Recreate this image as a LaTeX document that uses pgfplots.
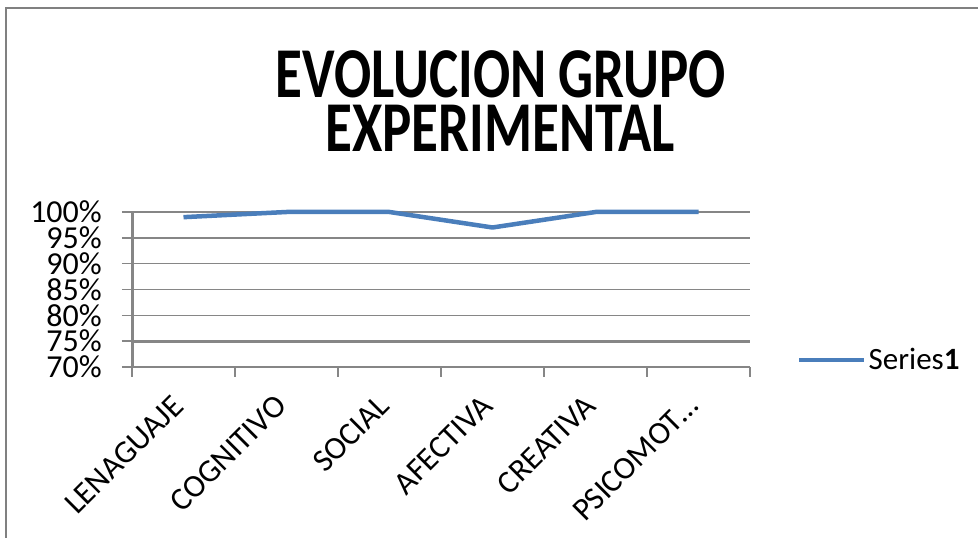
\documentclass[border=0pt]{standalone}
\usepackage{pgfplots}
\pgfplotsset{compat=1.18}
\usepackage{graphicx}
\usepackage{fontspec}
\setmainfont{Carlito}
\definecolor{seriesblue}{RGB}{74,126,187}
\definecolor{axgray}{RGB}{134,134,134}
\definecolor{framegray}{RGB}{128,128,128}
\begin{document}
\begin{tikzpicture}[x=1pt,y=1pt]
\useasboundingbox (0,0) rectangle (978,538);
\draw[framegray, line width=2.5pt] (6,0) -- (6,530) -- (978,530);
\node[anchor=base, font=\fontsize{55}{53}\selectfont\bfseries, inner sep=0pt] at (501,440) {\scalebox{1}[1.3]{EVOLUCION GRUPO}};
\node[anchor=base, font=\fontsize{55}{53}\selectfont\bfseries, inner sep=0pt] at (500,386) {\scalebox{1}[1.3]{EXPERIMENTAL}};
\begin{axis}[
  at={(132pt,171pt)}, anchor=south west,
  scale only axis, width=618pt, height=155pt,
  xmin=0.5, xmax=6.5, ymin=70, ymax=100,
  clip=false,
  axis lines*=left,
  x axis line style={draw=axgray, line width=1.5pt},
  y axis line style={draw=axgray, line width=3pt},
  tick align=outside,
  major tick length=10pt, minor tick length=10pt,
  xtick={1,2,3,4,5,6},
  xtick style={draw=none},
  minor xtick={0.5,1.5,2.5,3.5,4.5,5.5,6.5},
  minor x tick style={draw=axgray, line width=1.5pt},
  ytick={70,75,80,85,90,95,100},
  yticklabels={70\%,75\%,80\%,85\%,90\%,95\%,100\%},
  ytick style={draw=axgray, line width=1.5pt},
  extra y ticks={75},
  extra y tick labels={},
  extra y tick style={grid style={draw=axgray, line width=3pt}, tick style={draw=axgray, line width=3pt}},
  xticklabels={LENAGUAJE,COGNITIVO,SOCIAL,AFECTIVA,CREATIVA,PSICOMOT…},
  ymajorgrids=true,
  grid style={draw=axgray, line width=1.5pt},
  tick label style={font=\fontsize{32}{37}\selectfont, text=black},
  xticklabel style={xshift=-13pt, yshift=-16pt, rotate=45, anchor=north east, inner sep=0pt},
  yticklabel style={xshift=-20pt, anchor=east, inner sep=0pt},
  legend style={at={(1.076,0.045)}, anchor=west, draw=none, fill=none,
    font=\fontsize{31}{37}\selectfont, inner sep=0pt, nodes={inner sep=2pt}},
  legend image code/.code={\draw[#1] (0pt,0pt) -- (65pt,0pt);},
]
\addplot[color=seriesblue, line width=4.5pt, line join=round] coordinates {(1,99) (2,100) (3,100) (4,97) (5,100) (6,100)};
\addlegendentry{Series\textbf{1}}
\end{axis}
\end{tikzpicture}
\end{document}
